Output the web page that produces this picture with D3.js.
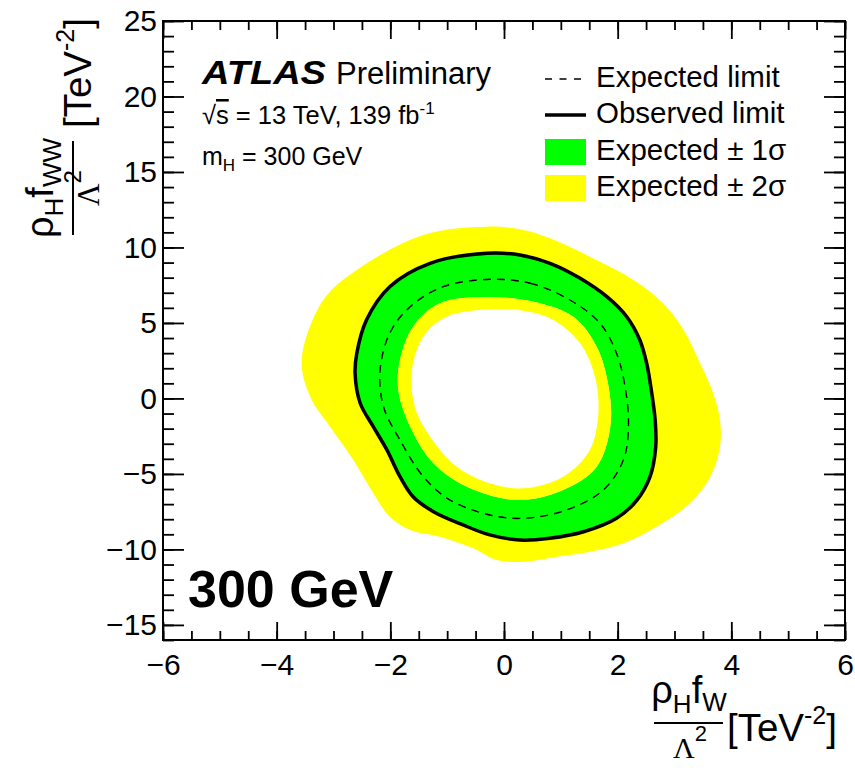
<!DOCTYPE html>
<html>
<head>
<meta charset="utf-8">
<script src="https://cdn.jsdelivr.net/npm/d3@7"></script>
<style>
  body { margin: 0; background: #fff; }
  text { font-family: "Liberation Sans", Arial, Helvetica, sans-serif; fill: #000; }
</style>
</head>
<body>
<svg id="chart" width="855" height="768"></svg>
<script>
// Axis ranges and tick labels
const xDomain = [-6, 6];
const yDomain = [-16, 25];
const xMajorTicks = [-6, -4, -2, 0, 2, 4, 6];
const yMajorTicks = [-15, -10, -5, 0, 5, 10, 15, 20, 25];

// Limit contours in (rho_H f_W / Lambda^2, rho_H f_WW / Lambda^2), TeV^-2
const band2Outer = [
  [-0.30, 11.38], [0.34, 11.16], [0.81, 10.61], [1.51, 9.39], [2.28, 7.85], [2.80, 6.30],
  [3.16, 4.53], [3.45, 2.33], [3.68, 0.34], [3.80, -1.43], [3.80, -3.20], [3.63, -5.18],
  [3.27, -6.94], [2.69, -8.49], [2.10, -9.59], [1.51, -10.15], [0.93, -10.48], [0.34, -10.81],
  [-0.13, -10.70], [-0.54, -9.93], [-1.13, -9.16], [-1.65, -8.71], [-2.01, -7.83],
  [-2.30, -6.28], [-2.65, -4.08], [-3.06, -1.87], [-3.41, 0.12], [-3.56, 2.55],
  [-3.18, 6.52], [-2.59, 8.51], [-1.42, 10.83]
];
const band1Outer = [
  [-0.30, 9.58], [0.28, 9.47], [0.81, 8.93], [1.34, 7.94], [1.81, 6.72], [2.16, 5.39],
  [2.39, 3.85], [2.51, 2.31], [2.60, 0.32], [2.66, -1.43], [2.68, -3.20], [2.57, -5.16],
  [2.34, -6.71], [1.98, -7.92], [1.40, -8.80], [0.81, -9.23], [0.28, -9.35], [-0.25, -9.01],
  [-0.72, -8.35], [-1.24, -7.47], [-1.60, -6.48], [-1.83, -5.16], [-2.06, -3.39],
  [-2.31, -1.87], [-2.54, -0.32], [-2.64, 1.67], [-2.60, 2.99], [-2.42, 5.18],
  [-2.01, 7.38], [-1.30, 8.93]
];
const expectedLimit = [
  [-0.25, 7.89], [0.46, 7.63], [1.16, 6.52], [1.69, 4.98], [1.98, 2.99], [2.13, 0.78],
  [2.19, -1.87], [2.10, -4.08], [1.75, -6.06], [1.10, -7.39], [0.34, -7.94], [-0.25, -7.72],
  [-0.95, -6.73], [-1.42, -5.18], [-1.83, -2.75], [-2.12, -0.55], [-2.18, 1.88],
  [-2.01, 4.32], [-1.65, 6.08], [-1.07, 7.40]
];
const band1Inner = [
  [-0.36, 6.70], [0.52, 6.41], [1.22, 5.41], [1.63, 3.43], [1.84, 0.78], [1.87, -1.87],
  [1.63, -4.52], [1.04, -6.06], [0.22, -6.73], [-0.66, -5.84], [-1.24, -4.30],
  [-1.65, -1.87], [-1.86, 0.56], [-1.83, 2.55], [-1.60, 4.75], [-1.13, 6.30]
];
const band2Inner = [
  [-0.25, 5.90], [0.34, 5.81], [0.87, 5.20], [1.34, 3.65], [1.60, 1.44], [1.66, -0.98],
  [1.51, -3.41], [1.04, -5.18], [0.34, -5.95], [-0.25, -5.62], [-0.83, -4.52],
  [-1.30, -2.53], [-1.57, -0.55], [-1.62, 1.88], [-1.42, 4.09], [-1.01, 5.41]
];
const observedLimit = [
  [-0.30, 9.61], [0.28, 9.50], [0.81, 8.95], [1.34, 7.96], [1.81, 6.74], [2.16, 5.41],
  [2.39, 3.87], [2.51, 2.33], [2.60, 0.34], [2.66, -1.43], [2.67, -3.20], [2.57, -5.18],
  [2.34, -6.73], [1.98, -7.94], [1.40, -8.83], [0.81, -9.26], [0.28, -9.38], [-0.25, -9.04],
  [-0.72, -8.38], [-1.24, -7.50], [-1.60, -6.51], [-1.83, -5.18], [-2.06, -3.41],
  [-2.30, -1.87], [-2.53, -0.32], [-2.62, 1.67], [-2.59, 2.99], [-2.42, 5.20],
  [-2.01, 7.40], [-1.30, 8.95]
];

const legendEntries = [
  { label: "Expected limit", kind: "dash" },
  { label: "Observed limit", kind: "line" },
  { label: "Expected \u00B1 1\u03C3", kind: "box", color: "#00ff00" },
  { label: "Expected \u00B1 2\u03C3", kind: "box", color: "#ffff00" }
];

const svg = d3.select("#chart");
const plotL = 163, plotR = 845, plotT = 21, plotB = 640;

const x = d3.scaleLinear().domain(xDomain).range([plotL, plotR]);
const y = d3.scaleLinear().domain(yDomain).range([plotB, plotT]);

const contour = d3.line()
  .x(d => x(d[0])).y(d => y(d[1]))
  .curve(d3.curveCatmullRomClosed.alpha(0.5));

// Bands as rings (even-odd fill)
const ring = (outer, inner) => contour(outer) + contour(inner);
const bands = svg.append("g");
bands.append("path").attr("d", ring(band2Outer, band1Outer))
  .attr("fill", "#ffff00").attr("fill-rule", "evenodd");
bands.append("path").attr("d", ring(band1Outer, band1Inner))
  .attr("fill", "#00ff00").attr("fill-rule", "evenodd");
bands.append("path").attr("d", ring(band1Inner, band2Inner))
  .attr("fill", "#ffff00").attr("fill-rule", "evenodd");

svg.append("path").attr("d", contour(expectedLimit))
  .attr("fill", "none").attr("stroke", "#000").attr("stroke-width", 1.4)
  .attr("stroke-dasharray", "8,6");
svg.append("path").attr("d", contour(observedLimit))
  .attr("fill", "none").attr("stroke", "#000").attr("stroke-width", 3.5);

// Axes with inward ticks on all four sides
const noLabel = () => "";
const fmt = d3.format("d");
function styleAxis(g) {
  g.select(".domain").remove();
  g.selectAll(".tick line").attr("stroke", "#000").attr("stroke-width", 1.8);
}
const xMinor = d3.range(-6, 6.001, 0.5);
const yMinor = d3.range(-16, 25.001, 1);

svg.append("g").attr("transform", `translate(0,${plotB})`)
  .call(d3.axisBottom(x).tickValues(xMinor).tickSize(-9).tickFormat(noLabel)).call(styleAxis);
svg.append("g").attr("transform", `translate(0,${plotT})`)
  .call(d3.axisTop(x).tickValues(xMinor).tickSize(-9).tickFormat(noLabel)).call(styleAxis);
svg.append("g").attr("transform", `translate(${plotL},0)`)
  .call(d3.axisLeft(y).tickValues(yMinor).tickSize(-11).tickFormat(noLabel)).call(styleAxis);
svg.append("g").attr("transform", `translate(${plotR},0)`)
  .call(d3.axisRight(y).tickValues(yMinor).tickSize(-11).tickFormat(noLabel)).call(styleAxis);

const xAxis = svg.append("g").attr("transform", `translate(0,${plotB})`)
  .call(d3.axisBottom(x).tickValues(xMajorTicks).tickSize(-18).tickPadding(14).tickFormat(fmt))
  .call(styleAxis);
svg.append("g").attr("transform", `translate(0,${plotT})`)
  .call(d3.axisTop(x).tickValues(xMajorTicks).tickSize(-18).tickFormat(noLabel)).call(styleAxis);
const yAxis = svg.append("g").attr("transform", `translate(${plotL},0)`)
  .call(d3.axisLeft(y).tickValues(yMajorTicks).tickSize(-21).tickPadding(6).tickFormat(fmt))
  .call(styleAxis);
svg.append("g").attr("transform", `translate(${plotR},0)`)
  .call(d3.axisRight(y).tickValues(yMajorTicks).tickSize(-21).tickFormat(noLabel)).call(styleAxis);

[xAxis, yAxis].forEach(g => g.selectAll(".tick text")
  .attr("font-family", "'Liberation Sans', Arial, sans-serif")
  .attr("font-size", 30).attr("fill", "#000"));

svg.append("rect").attr("x", plotL).attr("y", plotT)
  .attr("width", plotR - plotL).attr("height", plotB - plotT)
  .attr("fill", "none").attr("stroke", "#000").attr("stroke-width", 2);

// Experiment label block
svg.append("text").attr("x", 202).attr("y", 84).attr("font-size", 34)
  .attr("font-weight", "bold").attr("font-style", "italic")
  .attr("textLength", 124).attr("lengthAdjust", "spacingAndGlyphs").text("ATLAS");
svg.append("text").attr("x", 336).attr("y", 84).attr("font-size", 31).text("Preliminary");

const energy = svg.append("text").attr("x", 202).attr("y", 124).attr("font-size", 25.5);
energy.append("tspan").text("\u221A");
energy.append("tspan").attr("text-decoration", "overline").text("s");
energy.append("tspan").text(" = 13 TeV, 139 fb");
energy.append("tspan").attr("font-size", 17).attr("dy", -10).text("-1");

const mass = svg.append("text").attr("x", 202).attr("y", 165).attr("font-size", 25);
mass.append("tspan").text("m");
mass.append("tspan").attr("font-size", 17).attr("dy", 6).text("H");
mass.append("tspan").attr("dy", -6).text(" = 300 GeV");

svg.append("text").attr("x", 188).attr("y", 607)
  .attr("font-size", 52).attr("font-weight", "bold").text("300 GeV");

// Legend
const legend = svg.append("g");
const legRowY = [79, 115, 152, 188];
legendEntries.forEach((e, i) => {
  const cy = legRowY[i];
  if (e.kind === "dash") {
    legend.append("line").attr("x1", 545).attr("x2", 586).attr("y1", cy).attr("y2", cy)
      .attr("stroke", "#000").attr("stroke-width", 1.4).attr("stroke-dasharray", "7,7.5");
  } else if (e.kind === "line") {
    legend.append("line").attr("x1", 545).attr("x2", 586).attr("y1", cy).attr("y2", cy)
      .attr("stroke", "#000").attr("stroke-width", 3.5);
  } else {
    legend.append("rect").attr("x", 545).attr("y", cy - 13).attr("width", 41).attr("height", 26)
      .attr("fill", e.color);
  }
  legend.append("text").attr("x", 596).attr("y", cy + 8).attr("font-size", 29.5).text(e.label);
});

// X axis title: rho_H f_W / Lambda^2 [TeV^-2]
const serif = "'Liberation Serif', 'Times New Roman', serif";
const xt = svg.append("g");
const xNum = xt.append("text").attr("x", 689).attr("y", 703).attr("text-anchor", "middle").attr("font-size", 38);
xNum.append("tspan").text("\u03C1");
xNum.append("tspan").attr("font-size", 26).attr("dy", 10).text("H");
xNum.append("tspan").attr("dy", -10).text("f");
xNum.append("tspan").attr("font-size", 26).attr("dy", 8).text("W");
xt.append("line").attr("x1", 654).attr("x2", 723).attr("y1", 723).attr("y2", 723)
  .attr("stroke", "#000").attr("stroke-width", 2);
const xDen = xt.append("text").attr("x", 690).attr("y", 758).attr("text-anchor", "middle").attr("font-size", 30);
xDen.append("tspan").attr("font-family", serif).text("\u039B");
xDen.append("tspan").attr("font-size", 22).attr("dy", -17).text("2");
const xUnit = xt.append("text").attr("x", 727).attr("y", 741).attr("font-size", 38.5);
xUnit.append("tspan").text("[TeV");
xUnit.append("tspan").attr("font-size", 25).attr("dy", -17).text("-2");
xUnit.append("tspan").attr("dy", 17).text("]");

// Y axis title, rotated
const yt = svg.append("g").attr("transform", "rotate(-90)");
const yNum = yt.append("text").attr("x", -188).attr("y", 53).attr("text-anchor", "middle").attr("font-size", 38);
yNum.append("tspan").text("\u03C1");
yNum.append("tspan").attr("font-size", 26).attr("dy", 10).text("H");
yNum.append("tspan").attr("dy", -10).text("f");
yNum.append("tspan").attr("font-size", 26).attr("dy", 8).text("WW");
yt.append("line").attr("x1", -235).attr("x2", -141).attr("y1", 73).attr("y2", 73)
  .attr("stroke", "#000").attr("stroke-width", 2);
const yDen = yt.append("text").attr("x", -188).attr("y", 99).attr("text-anchor", "middle").attr("font-size", 31);
yDen.append("tspan").attr("font-family", serif).text("\u039B");
yDen.append("tspan").attr("font-size", 24).attr("dy", -18).text("2");
const yUnit = yt.append("text").attr("x", -128).attr("y", 91).attr("font-size", 38.5);
yUnit.append("tspan").text("[TeV");
yUnit.append("tspan").attr("font-size", 25).attr("dy", -17).text("-2");
yUnit.append("tspan").attr("dy", 17).text("]");
</script>
</body>
</html>
